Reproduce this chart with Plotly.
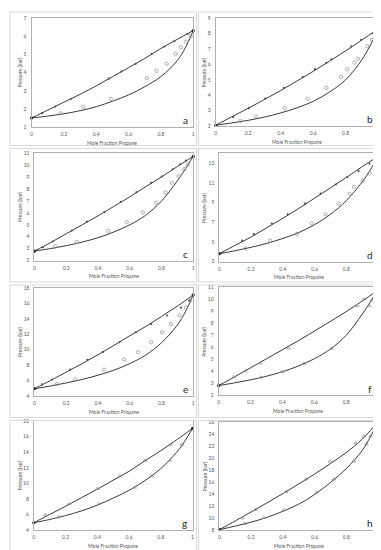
import plotly.graph_objects as go

W, H = 381, 550

# ---------------- data ----------------
grid_bub = [0, 0.1, 0.2, 0.3, 0.4, 0.5, 0.6, 0.7, 0.8, 0.9, 1.0]
grid_dew = [0, 0.1, 0.2, 0.3, 0.4, 0.5, 0.6, 0.7, 0.8, 0.9, 0.95, 1.0]

# panel a
bub_a = [1.5, 1.93, 2.37, 2.8, 3.27, 3.77, 4.27, 4.78, 5.33, 5.83, 6.32]
dew_a = [1.5, 1.6, 1.73, 1.9, 2.12, 2.42, 2.77, 3.22, 3.78, 4.65, 5.35, 6.32]
xb_a = [0.065, 0.147, 0.245, 0.48, 0.556, 0.644, 0.744, 0.822, 0.883, 0.965]
pb_a = [1.76, 2.13, 2.56, 3.67, 4.07, 4.49, 5.04, 5.44, 5.73, 6.13]
xd_a = [0.18, 0.32, 0.49, 0.713, 0.773, 0.836, 0.891, 0.924, 0.955, 0.985]
pd_a = [1.76, 2.12, 2.56, 3.7, 4.09, 4.49, 5.04, 5.4, 5.7, 6.03]

# panel b
bub_b = [2.05, 2.6, 3.15, 3.72, 4.3, 4.92, 5.55, 6.2, 6.88, 7.58, 8.3]
dew_b = [2.05, 2.2, 2.37, 2.58, 2.85, 3.18, 3.6, 4.2, 5.0, 6.3, 7.2, 8.3]
xb_b = [0.108, 0.204, 0.305, 0.42, 0.536, 0.611, 0.682, 0.713, 0.835, 0.896, 0.967]
pb_b = [2.58, 3.16, 3.78, 4.48, 5.17, 5.7, 6.11, 6.33, 7.18, 7.59, 8.02]
xd_b = [0.153, 0.248, 0.424, 0.566, 0.682, 0.772, 0.81, 0.855, 0.876, 0.933, 0.963, 0.98]
pd_b = [2.34, 2.62, 3.16, 3.78, 4.48, 5.19, 5.68, 6.11, 6.37, 7.18, 7.59, 8.02]

# panel c
bub_c = [2.8, 3.5, 4.25, 5.0, 5.75, 6.55, 7.35, 8.2, 9.03, 9.9, 10.75]
dew_c = [2.8, 3.0, 3.25, 3.55, 3.92, 4.4, 5.0, 5.8, 7.0, 8.7, 9.7, 10.75]
xb_c = [0.054, 0.115, 0.235, 0.33, 0.44, 0.544, 0.642, 0.735, 0.802, 0.871, 0.917, 0.954]
pb_c = [3.11, 3.6, 4.52, 5.27, 6.07, 6.93, 7.73, 8.53, 9.06, 9.67, 10.09, 10.39]
xd_c = [0.131, 0.267, 0.465, 0.581, 0.683, 0.767, 0.825, 0.865, 0.908, 0.944, 0.965]
pd_c = [3.19, 3.55, 4.5, 5.22, 6.05, 6.86, 7.73, 8.53, 9.09, 9.67, 10.09]

# panel d
bub_d = [3.8, 4.65, 5.5, 6.45, 7.4, 8.4, 9.45, 10.5, 11.55, 12.65, 13.7]
dew_d = [3.8, 4.1, 4.45, 4.85, 5.35, 5.95, 6.75, 7.8, 9.2, 11.1, 12.3, 13.7]
xb_d = [0.144, 0.217, 0.331, 0.431, 0.54, 0.638, 0.733, 0.806, 0.877, 0.946]
pb_d = [5.12, 5.79, 6.87, 7.81, 8.89, 9.9, 10.84, 11.59, 12.2, 12.97]
xd_d = [0.165, 0.32, 0.488, 0.581, 0.669, 0.752, 0.821, 0.848, 0.904, 0.946]
pd_d = [4.35, 5.12, 5.79, 6.87, 7.81, 8.89, 9.9, 10.6, 11.27, 11.98]

# panel e
bub_e = [4.95, 6.0, 7.1, 8.2, 9.35, 10.55, 11.8, 13.0, 14.3, 15.65, 17.1]
dew_e = [4.95, 5.3, 5.7, 6.15, 6.7, 7.35, 8.2, 9.3, 10.9, 13.2, 14.9, 17.1]
xb_e = [0.048, 0.11, 0.225, 0.333, 0.43, 0.535, 0.638, 0.735, 0.835, 0.923, 0.975]
pb_e = [5.5, 6.14, 7.42, 8.7, 9.68, 10.97, 12.25, 13.32, 14.43, 15.45, 16.38]
xd_e = [0.142, 0.256, 0.438, 0.565, 0.652, 0.735, 0.804, 0.86, 0.913, 0.954, 0.981]
pd_e = [5.58, 6.14, 7.42, 8.74, 9.68, 10.97, 12.25, 13.32, 14.43, 15.45, 16.38]

# panel f
bub_f = [2.82, 3.55, 4.3, 5.05, 5.8, 6.55, 7.35, 8.15, 8.97, 9.85, 10.76]
dew_f = [2.82, 3.05, 3.3, 3.6, 3.97, 4.45, 5.05, 5.85, 7.0, 8.75, 9.75, 10.76]
xb_f = [0.095, 0.168, 0.261, 0.438, 0.869, 0.911]
pb_f = [3.54, 4.03, 4.69, 5.93, 9.47, 10.0]
xd_f = [0.266, 0.396, 0.535, 0.707, 0.946, 0.96]
pd_f = [3.51, 3.98, 4.66, 5.9, 9.47, 9.91]

# panel g
bub_g = [4.93, 6.0, 7.05, 8.15, 9.25, 10.4, 11.55, 12.9, 14.2, 15.6, 17.07]
dew_g = [4.93, 5.35, 5.85, 6.45, 7.2, 8.1, 9.1, 10.35, 11.9, 14.0, 15.4, 17.07]
xb_g = [0.073, 0.223, 0.4, 0.542, 0.702, 0.86]
pb_g = [5.95, 7.35, 9.31, 10.96, 12.96, 15.0]
xd_g = [0.156, 0.41, 0.635, 0.744, 0.858, 0.933]
pd_g = [5.66, 7.35, 9.48, 10.95, 12.96, 15.0]

# panel h
bub_h = [8.05, 9.5, 11.0, 12.5, 14.05, 15.65, 17.3, 19.05, 20.9, 23.1, 26.0]
dew_h = [8.05, 8.65, 9.3, 10.1, 11.1, 12.3, 13.9, 15.9, 18.2, 21.2, 23.4, 26.0]
xb_h = [0.146, 0.227, 0.421, 0.546, 0.696, 0.858, 0.91]
pb_h = [9.98, 11.35, 14.37, 16.46, 19.43, 22.5, 23.6]
xd_h = [0.16, 0.279, 0.41, 0.6125, 0.723, 0.848, 0.927, 0.952]
pd_h = [9.04, 10.03, 11.35, 14.26, 16.46, 19.48, 22.3, 23.6]

labels = ["a", "b", "c", "d", "e", "f", "g", "h"]
x_ticks = [0, 0.2, 0.4, 0.6, 0.8, 1]
x_ticktext = ["0", "0.2", "0.4", "0.6", "0.8", "1"]
y_ranges = [[1, 7], [2, 9], [2, 11], [3, 14], [4, 18], [2, 11], [4, 18], [8, 26]]
y_ticks = [
    [1, 2, 3, 4, 5, 6, 7],
    [2, 3, 4, 5, 6, 7, 8, 9],
    [2, 3, 4, 5, 6, 7, 8, 9, 10, 11],
    [3, 5, 7, 9, 11, 13],
    [4, 6, 8, 10, 12, 14, 16, 18],
    [2, 3, 4, 5, 6, 7, 8, 9, 10, 11],
    [4, 6, 8, 10, 12, 14, 16, 18],
    [8, 10, 12, 14, 16, 18, 20, 22, 24, 26],
]
x_title = "Mole Fraction Propane"
y_title = "Pressure (bar)"

panels = [
    (bub_a, dew_a, xb_a, pb_a, xd_a, pd_a),
    (bub_b, dew_b, xb_b, pb_b, xd_b, pd_b),
    (bub_c, dew_c, xb_c, pb_c, xd_c, pd_c),
    (bub_d, dew_d, xb_d, pb_d, xd_d, pd_d),
    (bub_e, dew_e, xb_e, pb_e, xd_e, pd_e),
    (bub_f, dew_f, xb_f, pb_f, xd_f, pd_f),
    (bub_g, dew_g, xb_g, pb_g, xd_g, pd_g),
    (bub_h, dew_h, xb_h, pb_h, xd_h, pd_h),
]

# ---------------- layout geometry (pixels) ----------------
plot_px = [
    (22.7, 185.7, 7.3, 117.3),
    (208.3, 372.0, 7.3, 116.3),
    (25.7, 185.7, 144.0, 252.3),
    (212.0, 372.0, 144.0, 253.3),
    (25.7, 185.7, 280.0, 389.3),
    (211.3, 372.0, 279.3, 388.7),
    (25.0, 185.0, 414.7, 524.7),
    (212.0, 372.0, 415.3, 524.7),
]
chart_px = [
    (1, 189, 1, 136), (191, 380, 1, 136),
    (1, 189, 139, 274), (191, 380, 139, 274),
    (1, 189, 277, 411), (191, 380, 277, 411),
    (1, 189, 414, 549), (191, 380, 414, 549),
]

def px(x):
    return x / W

def py(y):
    return 1 - y / H

FONT = "Lato, Open Sans, sans-serif"
LINE = "#3a3a3a"
GREY = "#8c8c8c"
AX = "#b0b0b0"

fig = go.Figure()
layout = dict(
    width=W, height=H, margin=dict(l=0, r=0, t=0, b=0),
    paper_bgcolor="white", plot_bgcolor="white", showlegend=False,
    font=dict(family=FONT, size=5, color="#595959"),
)
annotations = []
shapes = []

for i, (bub, dew, xb, pb, xd, pdv) in enumerate(panels):
    k = i + 1
    xa = "x" if k == 1 else f"x{k}"
    ya = "y" if k == 1 else f"y{k}"
    tri = i >= 5
    # model curves
    fig.add_trace(go.Scatter(x=grid_bub, y=bub, mode="lines", xaxis=xa, yaxis=ya,
                             line=dict(color=LINE, width=1, shape="spline"), hoverinfo="skip"))
    fig.add_trace(go.Scatter(x=grid_dew, y=dew, mode="lines", xaxis=xa, yaxis=ya,
                             line=dict(color=LINE, width=1, shape="spline"), hoverinfo="skip"))
    # experimental points
    if tri:
        fig.add_trace(go.Scatter(x=xb, y=pb, mode="markers", xaxis=xa, yaxis=ya,
                                 marker=dict(symbol="triangle-up-open", size=3.2, color=GREY,
                                             line=dict(width=0.7))))
        fig.add_trace(go.Scatter(x=xd, y=pdv, mode="markers", xaxis=xa, yaxis=ya,
                                 marker=dict(symbol="triangle-up-open", size=3.2, color=GREY,
                                             line=dict(width=0.7))))
    else:
        fig.add_trace(go.Scatter(x=xb, y=pb, mode="markers", xaxis=xa, yaxis=ya,
                                 marker=dict(symbol="circle", size=2.2, color="#505050")))
        fig.add_trace(go.Scatter(x=xd, y=pdv, mode="markers", xaxis=xa, yaxis=ya,
                                 marker=dict(symbol="circle-open", size=3.3, color=GREY,
                                             line=dict(width=0.7))))
    # pure-component end points
    fig.add_trace(go.Scatter(x=[grid_bub[0], grid_bub[-1]], y=[bub[0], bub[-1]],
                             mode="markers", xaxis=xa, yaxis=ya, cliponaxis=False,
                             marker=dict(symbol="circle", size=3.2, color="#262626")))

    x0, x1, y0, y1 = plot_px[i]
    dom_x = [px(x0), px(x1)]
    dom_y = [py(y1), py(y0)]
    axis_common = dict(showline=True, mirror=True, linecolor=AX, linewidth=1,
                       showgrid=False, zeroline=False, ticks="",
                       tickfont=dict(family=FONT, size=5, color="#595959"))
    layout["xaxis" if k == 1 else f"xaxis{k}"] = dict(
        domain=dom_x, range=[0, 1], tickvals=x_ticks, ticktext=x_ticktext,
        anchor=ya, ticklabelstandoff=2, **axis_common)
    layout["yaxis" if k == 1 else f"yaxis{k}"] = dict(
        domain=dom_y, range=y_ranges[i], tickvals=y_ticks[i], anchor=xa,
        ticklabelstandoff=3, **axis_common)

    # axis titles
    annotations.append(dict(text=x_title, x=px((x0 + x1) / 2), y=py(y1 + 16),
                            xref="paper", yref="paper", showarrow=False,
                            font=dict(family=FONT, size=5, color="#595959"),
                            xanchor="center", yanchor="middle"))
    tx = 11 if i % 2 == 0 else 197
    annotations.append(dict(text=y_title, x=px(tx), y=py((y0 + y1) / 2),
                            xref="paper", yref="paper", showarrow=False, textangle=-90,
                            font=dict(family=FONT, size=5, color="#595959"),
                            xanchor="center", yanchor="middle"))
    # panel letter
    annotations.append(dict(text=labels[i], x=px(x1 - 8), y=py(y1 - 7),
                            xref="paper", yref="paper", showarrow=False,
                            font=dict(family=FONT, size=10, color="#262626"),
                            xanchor="center", yanchor="middle"))
    # chart-area frame
    cx0, cx1, cy0, cy1 = chart_px[i]
    shapes.append(dict(type="rect", xref="paper", yref="paper",
                       x0=px(cx0), x1=px(cx1), y0=py(cy1), y1=py(cy0),
                       line=dict(color="#d9d9d9", width=1)))

layout["annotations"] = annotations
layout["shapes"] = shapes
fig.update_layout(**layout)
fig.write_html("out.html")
